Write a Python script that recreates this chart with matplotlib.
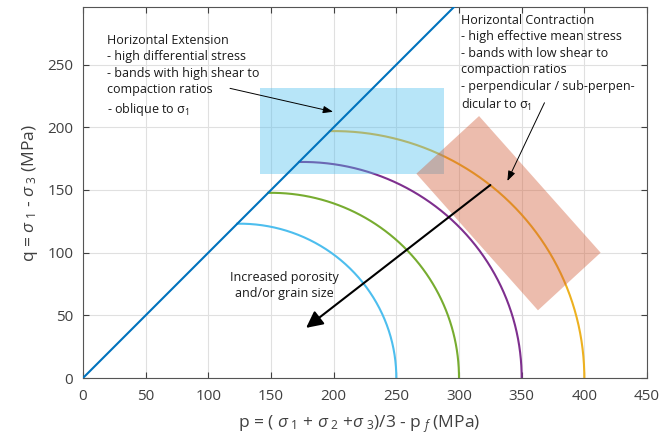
import numpy as np
import matplotlib
matplotlib.use("Agg")
from matplotlib import pyplot as plt
from matplotlib.patches import Polygon, Rectangle

plt.rcParams["font.family"] = ["Open Sans", "DejaVu Sans"]
plt.rcParams["mathtext.fontset"] = "custom"
plt.rcParams["mathtext.rm"] = "Open Sans"
plt.rcParams["mathtext.it"] = "Open Sans:italic"

# Yield caps: quarter ellipses ending at p0 on the p axis
cap_ends = [250, 300, 350, 400]
cap_colors = ["#4DBEEE", "#77AC30", "#7E2F8E", "#EDB120"]
cap_flatten = 0.985  # q half-axis relative to p half-axis

# Failure envelope q = p
envelope_p = [0, 320]
envelope_q = [0, 320]

# Shaded stress regimes (p, q)
extension_box = [141, 163, 288, 231]  # p_min, q_min, p_max, q_max
contraction_box = [(266, 163), (316, 209), (413, 100), (363, 54)]

# Arrow from the largest cap towards smaller caps
trend_start = (325, 154)
trend_end = (178, 40)

grey = "#404040"
text_col = "#1a1a1a"

fig = plt.figure(figsize=(6.7, 4.36), dpi=100)
ax = fig.add_axes([83 / 670, 58 / 436, 564 / 670, 371 / 436])

ax.set_xlim(0, 450)
ax.set_ylim(0, 296)
ax.set_xticks(np.arange(0, 451, 50))
ax.set_yticks(np.arange(0, 251, 50))
ax.grid(True, color="#e0e0e0", linewidth=0.8)
ax.set_axisbelow(True)

# start each cap where it meets the envelope
t0 = 2 * np.arctan(1 / cap_flatten)
for p0, c in zip(cap_ends, cap_colors):
    r = p0 / 2
    theta = np.linspace(t0, 0, 200)
    ax.plot(r + r * np.cos(theta), cap_flatten * r * np.sin(theta),
            color=c, linewidth=1.5, zorder=2)

ax.add_patch(Rectangle((extension_box[0], extension_box[1]),
                       extension_box[2] - extension_box[0],
                       extension_box[3] - extension_box[1],
                       facecolor="#4DBEEE", alpha=0.4, edgecolor="none",
                       zorder=3))
ax.add_patch(Polygon(contraction_box, closed=True,
                     facecolor=(0.82, 0.35, 0.2), alpha=0.4, edgecolor="none",
                     zorder=3))

ax.plot(envelope_p, envelope_q, color="#0072BD", linewidth=1.5, zorder=4)

ax.annotate("", xy=trend_end, xytext=trend_start,
            arrowprops=dict(arrowstyle="-|>,head_length=1.0,head_width=0.5",
                            color="black", linewidth=1.5, shrinkA=0, shrinkB=0),
            zorder=5)
ax.annotate("", xy=(199.5, 212.4), xytext=(117.3, 231.1),
            arrowprops=dict(arrowstyle="-|>,head_length=0.6,head_width=0.22",
                            color="black", linewidth=0.7, shrinkA=0, shrinkB=0),
            zorder=5)
ax.annotate("", xy=(338.6, 157.2), xytext=(368.2, 219.6),
            arrowprops=dict(arrowstyle="-|>,head_length=0.6,head_width=0.22",
                            color="black", linewidth=0.7, shrinkA=0, shrinkB=0),
            zorder=5)

ax.text(19, 274.5, "Horizontal Extension\n- high differential stress\n"
        "- bands with high shear to\ncompaction ratios\n"
        "- oblique to σ$_\\mathregular{1}$",
        fontsize=9, va="top", ha="left", linespacing=1.35, color=text_col)
ax.text(301.5, 290.5, "Horizontal Contraction\n- high effective mean stress\n"
        "- bands with low shear to\ncompaction ratios\n"
        "- perpendicular / sub-perpen-\ndicular to σ$_\\mathregular{1}$",
        fontsize=9, va="top", ha="left", linespacing=1.35, color=text_col)
ax.text(161, 74, "Increased porosity\nand/or grain size",
        fontsize=9, va="center", ha="center", linespacing=1.3,
        color=text_col)

ax.tick_params(direction="in", top=True, right=True, length=4,
               labelsize=11, colors=grey)
ax.tick_params(axis="x", pad=8)
ax.tick_params(axis="y", pad=7)
for s in ax.spines.values():
    s.set_color("#555555")
    s.set_linewidth(0.8)

ax.set_xlabel(r"p = ( $\sigma_{\ 1}$ + $\sigma_{\ 2}$ +$\sigma_{\ 3}$)/3 - p$_{\ f}$ (MPa)",
              fontsize=12.5, color=grey, labelpad=3)
ax.set_ylabel(r"q = $\sigma_{\ 1}$ - $\sigma_{\ 3}$ (MPa)",
              fontsize=12.5, color=grey, labelpad=5)
ax.xaxis.set_label_coords(0.49, -0.095)

fig.savefig("out.png", dpi=100)
